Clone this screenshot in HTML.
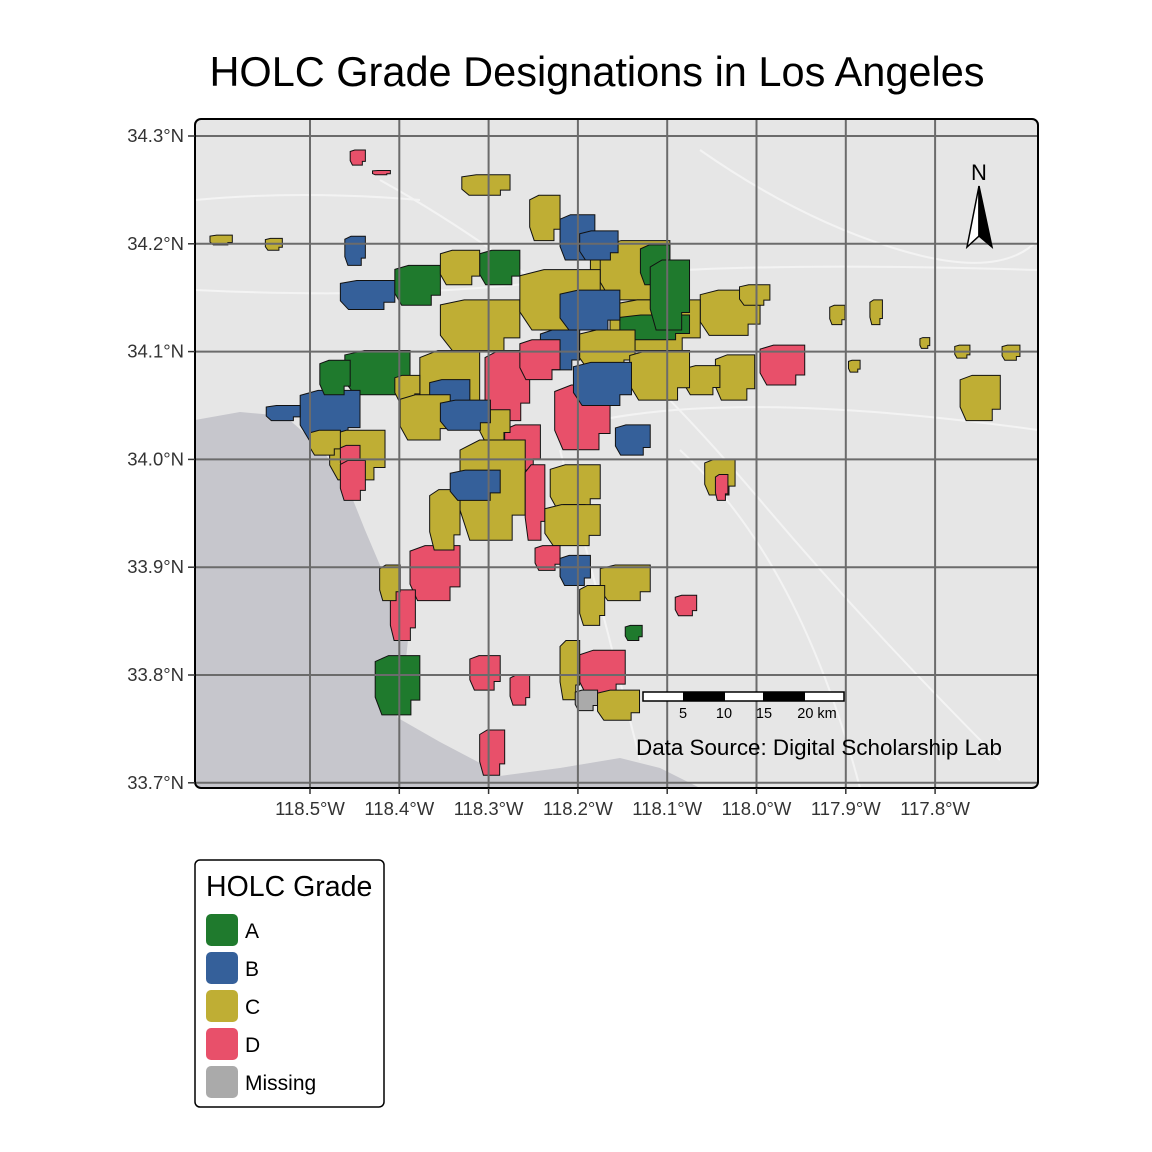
<!DOCTYPE html>
<html><head><meta charset="utf-8">
<style>
html,body{margin:0;padding:0;background:#fff;}
svg{display:block;font-family:"Liberation Sans",Arial,sans-serif;}
</style></head>
<body>
<svg id="chart" width="1152" height="1152" viewBox="0 0 1152 1152">
<text x="597" y="86" text-anchor="middle" font-size="41.5" fill="#000">HOLC Grade Designations in Los Angeles</text>
<defs><clipPath id="pclip"><rect x="195" y="119" width="843" height="669" rx="6"/></clipPath></defs>
<g clip-path="url(#pclip)">
<rect x="195" y="119" width="843" height="669" fill="#e6e6e6"/>
<path d="M195,420 L240,412 L285,416 L318,445 L345,480 L365,530 L382,570 L398,605 L408,640 L405,668 L388,690 L398,718 L440,742 L478,762 L500,776 L560,768 L620,758 L660,768 L700,788 L195,788 Z" fill="#c6c6cc"/>
<g stroke="#f7f7f7" stroke-width="2" fill="none" opacity="0.8">
<path d="M195,290 Q400,300 560,280 T1038,270"/><path d="M380,180 Q470,230 560,300 T760,500 T1000,760"/><path d="M600,420 Q750,390 1038,430"/><path d="M560,450 Q600,600 640,760"/><path d="M700,150 Q800,220 900,250 T1038,240"/><path d="M680,450 Q800,560 860,788"/><path d="M195,200 Q300,190 420,200"/>
</g>
<g id="patches"></g>
<g id="grid" stroke="#6b6b6b" stroke-width="2"></g>
</g>
<rect x="195" y="119" width="843" height="669" rx="6" fill="none" stroke="#000" stroke-width="2"/>
<g id="axes" font-size="18.5" fill="#333"></g>
<g>
<rect x="643" y="692" width="201" height="9" fill="#fff" stroke="#000" stroke-width="1.5"/>
<rect x="683" y="692" width="42" height="9" fill="#000"/>
<rect x="763" y="692" width="42" height="9" fill="#000"/>
<g font-size="14.5" fill="#000" text-anchor="middle">
<text x="683" y="718">5</text><text x="724" y="718">10</text><text x="764" y="718">15</text><text x="817" y="718">20 km</text>
</g></g>
<text x="819" y="755" text-anchor="middle" font-size="22.4" fill="#000">Data Source: Digital Scholarship Lab</text>
<g>
<text x="979" y="180" text-anchor="middle" font-size="22" fill="#000">N</text>
<path d="M979,186 L967,247 L979,236 Z" fill="#fff" stroke="#000" stroke-width="1.5"/>
<path d="M979,186 L992,247 L979,236 Z" fill="#000" stroke="#000" stroke-width="1.5"/>
</g>
<g>
<rect x="195" y="860" width="189" height="247" rx="5" fill="#fff" stroke="#000" stroke-width="1.5"/>
<text x="206" y="896" font-size="28.5" fill="#000">HOLC Grade</text>
<g id="legend-items"></g>
</g>
</svg>
<script>
const gradeNames = ["A","B","C","D","Missing"];
const gradeColors = ["#1f7a2d","#35609a","#bfae34","#e8506a","#aaaaaa"];
const lonTicks = [-118.5,-118.4,-118.3,-118.2,-118.1,-118.0,-117.9,-117.8];
const latTicks = [34.3,34.2,34.1,34.0,33.9,33.8,33.7];
const lonLabels = ["118.5°W","118.4°W","118.3°W","118.2°W","118.1°W","118.0°W","117.9°W","117.8°W"];
const latLabels = ["34.3°N","34.2°N","34.1°N","34.0°N","33.9°N","33.8°N","33.7°N"];
// patches: lon0, lat0, lon1, lat1
const patchWest = [-118.354,-118.186,-118.226,-118.282,-118.332,-118.259,-118.377,-118.461,-118.511,-118.478,-118.304,-118.388,-118.410,-118.427,-118.321,-118.276,-118.310,-118.198,-118.220,-118.175,-118.091,-117.996,-118.046,-118.080,-117.772,-118.330,-118.612,-118.550,-118.220,-118.466,-118.405,-118.063,-118.422,-118.231,-118.226,-118.158,-118.175,-118.130,-118.265,-118.310,-118.354,-118.164,-118.153,-118.366,-118.310,-118.242,-118.265,-118.198,-118.142,-118.366,-118.343,-118.237,-118.248,-118.220,-118.198,-118.549,-118.500,-118.466,-118.405,-118.455,-118.430,-118.254,-117.918,-117.873,-117.817,-117.778,-117.725,-117.897,-118.058,-118.046,-118.147,-118.203,-118.178,-118.019,-118.489,-118.466,-118.198,-118.205,-118.220,-118.399,-118.354,-118.461,-118.119];
const patchEast = [-118.265,-118.164,-118.164,-118.242,-118.259,-118.237,-118.310,-118.388,-118.444,-118.416,-118.254,-118.332,-118.382,-118.377,-118.287,-118.254,-118.282,-118.147,-118.198,-118.119,-118.067,-117.946,-118.002,-118.041,-117.727,-118.276,-118.587,-118.531,-118.181,-118.405,-118.354,-117.996,-118.399,-118.175,-118.192,-118.119,-118.097,-118.097,-118.175,-118.265,-118.310,-118.063,-118.075,-118.321,-118.276,-118.198,-118.220,-118.136,-118.075,-118.332,-118.287,-118.175,-118.220,-118.186,-118.170,-118.511,-118.466,-118.444,-118.377,-118.438,-118.410,-118.220,-117.901,-117.859,-117.806,-117.761,-117.705,-117.884,-118.024,-118.032,-118.128,-118.178,-118.131,-117.985,-118.455,-118.438,-118.155,-118.140,-118.153,-118.343,-118.298,-118.438,-118.075];
const patchNorth = [34.148,34.203,34.069,34.032,34.018,33.995,34.101,34.101,34.064,34.027,34.101,33.920,33.879,33.818,33.818,33.800,33.749,33.823,33.832,33.902,33.874,34.106,34.097,34.087,34.078,34.264,34.208,34.205,34.227,34.166,34.180,34.157,33.902,33.995,33.958,34.032,34.203,34.199,34.176,34.194,34.194,34.148,34.134,34.074,34.046,34.120,34.111,34.120,34.101,33.972,33.990,33.958,33.920,33.911,33.883,34.050,34.027,34.013,34.078,34.287,34.268,34.245,34.143,34.148,34.113,34.106,34.106,34.092,34.000,33.986,33.846,33.786,33.786,34.162,34.092,33.999,34.212,34.090,34.157,34.060,34.055,34.207,34.185];
const patchSouth = [34.101,34.148,34.009,33.990,33.925,33.925,34.036,34.060,34.018,33.981,34.036,33.869,33.832,33.763,33.786,33.772,33.707,33.781,33.777,33.869,33.855,34.069,34.055,34.060,34.036,34.245,34.199,34.194,34.185,34.139,34.143,34.115,33.869,33.953,33.934,34.004,34.148,34.162,34.120,34.162,34.162,34.101,34.111,34.046,34.018,34.083,34.074,34.083,34.055,33.916,33.962,33.920,33.897,33.883,33.846,34.036,34.004,33.990,34.055,34.273,34.264,34.203,34.125,34.125,34.103,34.094,34.092,34.081,33.967,33.962,33.832,33.767,33.758,34.143,34.060,33.962,34.185,34.050,34.120,34.018,34.027,34.180,34.120];
const patchGrade = [2,2,3,3,2,3,2,0,1,2,3,3,3,0,3,3,3,3,2,2,3,3,2,2,2,2,2,2,1,1,0,2,2,2,1,1,2,0,2,0,2,2,0,1,2,1,3,2,2,2,1,2,3,1,2,1,2,3,2,3,3,2,2,2,2,2,2,2,2,3,0,4,2,2,0,3,1,1,1,2,1,1,0];

const NS="http://www.w3.org/2000/svg";
function xOf(lon){return 310+(lon+118.5)*893;}
function yOf(lat){return 136+(34.3-lat)*1078;}

const pg=document.getElementById('patches');
for(let i=0;i<patchGrade.length;i++){
  const x0=xOf(patchWest[i]),x1=xOf(patchEast[i]),y0=yOf(patchNorth[i]),y1=yOf(patchSouth[i]);
  const w=x1-x0,h=y1-y0;
  const p=document.createElementNS(NS,'path');
  const d=`M${x0},${y0+h*0.1} L${x0+w*0.3},${y0} L${x1},${y0} L${x1},${y1-h*0.25} L${x1-w*0.2},${y1-h*0.25} L${x1-w*0.2},${y1} L${x0+w*0.15},${y1} L${x0},${y1-h*0.3} Z`;
  p.setAttribute('d',d);
  p.setAttribute('fill',gradeColors[patchGrade[i]]);
  p.setAttribute('stroke','#111');
  p.setAttribute('stroke-width','1');
  
  
  pg.appendChild(p);
}
const gg=document.getElementById('grid');
lonTicks.forEach(v=>{const l=document.createElementNS(NS,'line');l.setAttribute('x1',xOf(v));l.setAttribute('x2',xOf(v));l.setAttribute('y1',119);l.setAttribute('y2',788);gg.appendChild(l);});
latTicks.forEach(v=>{const l=document.createElementNS(NS,'line');l.setAttribute('y1',yOf(v));l.setAttribute('y2',yOf(v));l.setAttribute('x1',195);l.setAttribute('x2',1038);gg.appendChild(l);});
const ax=document.getElementById('axes');
lonTicks.forEach((v,i)=>{
  const t=document.createElementNS(NS,'text');t.setAttribute('x',xOf(v));t.setAttribute('y',815);t.setAttribute('text-anchor','middle');t.textContent=lonLabels[i];
  
  
  ax.appendChild(t);
  const k=document.createElementNS(NS,'line');k.setAttribute('x1',xOf(v));k.setAttribute('x2',xOf(v));k.setAttribute('y1',788);k.setAttribute('y2',794);k.setAttribute('stroke','#333');k.setAttribute('stroke-width','1.5');ax.appendChild(k);
});
latTicks.forEach((v,i)=>{
  const t=document.createElementNS(NS,'text');t.setAttribute('x',184);t.setAttribute('y',yOf(v)+6);t.setAttribute('text-anchor','end');t.textContent=latLabels[i];
  
  
  ax.appendChild(t);
  const k=document.createElementNS(NS,'line');k.setAttribute('x1',188);k.setAttribute('x2',195);k.setAttribute('y1',yOf(v));k.setAttribute('y2',yOf(v));k.setAttribute('stroke','#333');k.setAttribute('stroke-width','1.5');ax.appendChild(k);
});
const lg=document.getElementById('legend-items');
gradeNames.forEach((g,i)=>{
  const y=914+i*38;
  const r=document.createElementNS(NS,'rect');r.setAttribute('x',206);r.setAttribute('y',y);r.setAttribute('width',32);r.setAttribute('height',32);r.setAttribute('rx',5);r.setAttribute('fill',gradeColors[i]);
  
  
  lg.appendChild(r);
  const t=document.createElementNS(NS,'text');t.setAttribute('x',245);t.setAttribute('y',y+24);t.setAttribute('font-size','21');t.textContent=g;
  
  
  lg.appendChild(t);
});
</script>
</body></html>
